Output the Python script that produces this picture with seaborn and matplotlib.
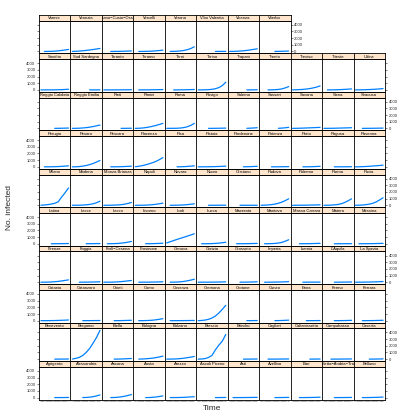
import matplotlib
matplotlib.use("Agg")
import matplotlib.pyplot as plt
import numpy as np
import pandas as pd
import seaborn as sns

N = None

# day offsets (every 3 days)
days = [0, 3, 6, 9, 12, 15, 18, 21, 24]

provinces = [
    "Agrigento", "Alessandria", "Ancona", "Aosta", "Arezzo", "Ascoli Piceno", "Asti", "Avellino", "Bari",
    "Barletta\u2212Andria\u2212Trani", "Belluno",
    "Benevento", "Bergamo", "Biella", "Bologna", "Bolzano", "Brescia", "Brindisi", "Cagliari", "Caltanissetta",
    "Campobasso", "Caserta",
    "Catania", "Catanzaro", "Chieti", "Como", "Cosenza", "Cremona", "Crotone", "Cuneo", "Enna", "Fermo", "Ferrara",
    "Firenze", "Foggia", "Forl\u00ec\u2212Cesena", "Frosinone", "Genova", "Gorizia", "Grosseto", "Imperia", "Isernia",
    "L'Aquila", "La Spezia",
    "Latina", "Lecce", "Lecco", "Livorno", "Lodi", "Lucca", "Macerata", "Mantova", "Massa Carrara", "Matera", "Messina",
    "Milano", "Modena", "Monza Brianza", "Napoli", "Novara", "Nuoro", "Oristano", "Padova", "Palermo", "Parma", "Pavia",
    "Perugia", "Pesaro", "Pescara", "Piacenza", "Pisa", "Pistoia", "Pordenone", "Potenza", "Prato", "Ragusa", "Ravenna",
    "Reggio Calabria", "Reggio Emilia", "Rieti", "Rimini", "Roma", "Rovigo", "Salerno", "Sassari", "Savona", "Siena",
    "Siracusa",
    "Sondrio", "Sud Sardegna", "Taranto", "Teramo", "Terni", "Torino", "Trapani", "Trento", "Treviso", "Trieste", "Udine",
    "Varese", "Venezia", "Verbano\u2212Cusio\u2212Ossola", "Vercelli", "Verona", "Vibo Valentia", "Vicenza", "Viterbo",
]

cases_agrigento_belluno = [
    [N, N, N, N, 2, 4, 6, 10, 20],
    [N, N, N, 5, 20, 60, 130, 250, 400],
    [N, N, 2, 15, 50, 110, 200, 320, 450],
    [N, N, N, 1, 10, 40, 90, 170, 250],
    [N, 2, 5, 10, 20, 40, 70, 100, 130],
    [N, N, N, N, N, 2, 5, 10, 20],
    [N, 1, 2, 4, 8, 12, 18, 25, 35],
    [N, N, N, N, 2, 5, 10, 20, 30],
    [N, N, 1, 3, 8, 15, 25, 40, 60],
    [N, N, N, 1, 3, 6, 10, 15, 25],
    [N, N, 1, 4, 10, 20, 35, 55, 80],
]
cases_benevento_caserta = [
    [N, N, N, N, 1, 3, 6, 12, 25],
    [10, 120, 260, 550, 1000, 1600, 2400, 3250, 4305],
    [N, N, N, 2, 8, 20, 40, 70, 100],
    [N, 5, 20, 50, 90, 150, 230, 330, 450],
    [1, 5, 15, 40, 80, 140, 220, 300, 400],
    [0, 20, 80, 250, 550, 1400, 2100, 2700, 3700],
    [N, N, N, N, 1, 3, 6, 12, 20],
    [N, N, 1, 2, 4, 8, 12, 18, 25],
    [N, N, N, N, N, 2, 5, 10, 20],
    [N, N, 1, 3, 6, 10, 15, 22, 30],
    [N, N, N, N, 2, 6, 12, 25, 40],
]
cases_catania_ferrara = [
    [1, 3, 6, 12, 20, 35, 55, 75, 100],
    [N, N, N, 1, 3, 6, 10, 15, 25],
    [N, N, N, 2, 6, 12, 25, 40, 60],
    [N, 2, 6, 15, 35, 70, 130, 210, 300],
    [N, 1, 2, 4, 8, 12, 18, 25, 35],
    [0, 30, 90, 200, 400, 700, 1150, 1700, 2300],
    [N, N, N, N, N, 2, 5, 10, 20],
    [N, N, N, N, 3, 10, 25, 50, 80],
    [N, N, N, N, 1, 3, 6, 12, 20],
    [N, N, N, 1, 4, 10, 18, 30, 50],
    [N, N, 1, 3, 8, 15, 25, 40, 60],
]
cases_firenze_laspezia = [
    [1, 5, 15, 35, 70, 120, 190, 270, 350],
    [N, N, 1, 4, 10, 18, 30, 45, 60],
    [1, 4, 10, 25, 50, 90, 140, 200, 260],
    [N, 1, 3, 6, 12, 20, 32, 45, 60],
    [N, 2, 8, 25, 60, 120, 210, 320, 450],
    [1, 2, 4, 8, 12, 20, 28, 38, 50],
    [N, N, N, 2, 6, 14, 26, 42, 60],
    [N, 1, 3, 8, 15, 25, 40, 60, 80],
    [N, N, N, 1, 3, 6, 10, 15, 20],
    [N, N, N, 1, 3, 8, 14, 22, 30],
    [1, 3, 8, 15, 25, 40, 58, 78, 100],
]
cases_latina_messina = [
    [N, N, N, 2, 5, 10, 18, 25, 35],
    [N, N, N, N, 3, 8, 15, 22, 30],
    [N, 2, 8, 20, 45, 90, 150, 240, 350],
    [N, N, N, 2, 8, 18, 32, 55, 80],
    [130, 300, 480, 650, 820, 980, 1150, 1320, 1500],
    [N, 1, 4, 10, 25, 50, 90, 150, 230],
    [N, N, 1, 3, 8, 15, 25, 38, 50],
    [N, 2, 8, 20, 50, 100, 200, 380, 600],
    [N, N, 1, 4, 10, 18, 30, 45, 60],
    [N, N, N, 1, 2, 4, 6, 8, 10],
    [N, 1, 3, 6, 12, 20, 32, 45, 60],
]
cases_milano_pavia = [
    [10, 50, 100, 180, 300, 520, 1240, 1880, 2600],
    [1, 5, 15, 35, 70, 130, 230, 380, 620],
    [0, 3, 10, 25, 50, 90, 160, 280, 420],
    [0, 3, 10, 25, 50, 90, 150, 230, 320],
    [N, 2, 6, 15, 30, 60, 100, 160, 220],
    [N, N, N, 1, 2, 4, 7, 10, 15],
    [N, N, N, 1, 1, 2, 3, 4, 5],
    [5, 20, 50, 100, 180, 300, 470, 700, 970],
    [1, 3, 6, 12, 20, 30, 42, 55, 70],
    [1, 8, 25, 60, 120, 230, 420, 680, 970],
    [2, 15, 40, 90, 170, 300, 500, 800, 1120],
]
cases_perugia_ravenna = [
    [N, 1, 4, 10, 20, 40, 70, 110, 150],
    [1, 10, 40, 100, 200, 330, 500, 720, 950],
    [N, N, 1, 5, 12, 25, 45, 70, 100],
    [20, 80, 180, 300, 450, 620, 820, 1080, 1380],
    [N, N, N, 3, 12, 30, 60, 100, 150],
    [1, 3, 6, 12, 20, 35, 55, 75, 100],
    [N, N, N, N, 5, 15, 30, 55, 80],
    [N, N, N, 1, 3, 7, 12, 20, 30],
    [N, N, N, 2, 6, 14, 28, 50, 80],
    [N, N, N, 1, 2, 5, 9, 14, 20],
    [1, 8, 25, 50, 80, 120, 160, 200, 250],
]
cases_reggiocal_siracusa = [
    [N, N, N, N, 2, 8, 18, 32, 50],
    [1, 8, 25, 60, 110, 180, 270, 380, 500],
    [N, N, N, N, N, 2, 6, 12, 20],
    [2, 15, 50, 110, 200, 310, 440, 590, 750],
    [3, 5, 10, 20, 50, 120, 250, 450, 750],
    [N, N, N, 1, 4, 10, 18, 28, 40],
    [N, N, N, N, N, 10, 30, 60, 100],
    [N, N, N, N, N, 10, 40, 90, 150],
    [1, 8, 20, 40, 60, 80, 100, 125, 150],
    [1, 4, 10, 20, 35, 50, 65, 80, 100],
    [N, N, 1, 3, 8, 14, 22, 30, 40],
]
cases_sondrio_udine = [
    [0, 1, 3, 6, 12, 22, 40, 65, 100],
    [N, N, N, N, N, 1, 3, 6, 10],
    [0, 1, 2, 4, 7, 10, 15, 22, 30],
    [N, 1, 3, 6, 12, 20, 30, 40, 50],
    [N, N, 1, 4, 10, 18, 30, 45, 60],
    [1, 5, 15, 40, 90, 180, 350, 650, 1150],
    [N, N, N, N, N, 2, 6, 12, 20],
    [N, N, 2, 10, 30, 70, 150, 300, 500],
    [5, 20, 45, 80, 130, 200, 300, 430, 600],
    [N, 1, 5, 15, 30, 50, 80, 110, 150],
    [1, 8, 20, 35, 55, 80, 110, 150, 200],
]
cases_varese_viterbo = [
    [N, 2, 8, 20, 45, 90, 150, 220, 300],
    [5, 25, 60, 100, 160, 220, 290, 370, 450],
    [N, N, 1, 4, 10, 20, 35, 55, 80],
    [N, 1, 5, 12, 25, 50, 90, 140, 200],
    [N, 3, 12, 35, 80, 150, 270, 450, 700],
    [N, N, N, N, N, 1, 3, 6, 10],
    [2, 10, 30, 60, 100, 160, 230, 310, 400],
    [N, N, N, N, 3, 12, 25, 40, 60],
]

yticks = [0, 1000, 2000, 3000, 4000]

# ---- build long table ----
all_series = (cases_agrigento_belluno + cases_benevento_caserta + cases_catania_ferrara +
              cases_firenze_laspezia + cases_latina_messina + cases_milano_pavia +
              cases_perugia_ravenna + cases_reggiocal_siracusa + cases_sondrio_udine +
              cases_varese_viterbo)
rows = []
for name, vals in zip(provinces, all_series):
    for d, v in zip(days, vals):
        rows.append({"province": name, "day": d, "cases": np.nan if v is None else v})
df = pd.DataFrame(rows).dropna()

sns.set_theme(style="white")
plt.rcParams["font.family"] = ["Liberation Sans", "DejaVu Sans"]

W = H = 420
fig = plt.figure(figsize=(W / 100, H / 100), dpi=100)
fig.patch.set_facecolor("white")

X0, PW = 39.0, 31.45
Y0, RP, SH = 15.0, 38.46, 5.7
ncols = 11
nrows = 10
ymax_data = 4310
ylim = (-0.07 * ymax_data, 1.07 * ymax_data)
xr = days[-1] - days[0]
xlim = (days[0] - 0.07 * xr, days[-1] + 0.07 * xr)
line_col = "#0080ff"
strip_col = "#ffe5cc"
fs = 3.0

for i, name in enumerate(provinces):
    lr, c = divmod(i, ncols)
    r = nrows - 1 - lr
    left = X0 + c * PW
    st = Y0 + r * RP
    pt = st + SH
    pb = Y0 + (r + 1) * RP
    ax = fig.add_axes([left / W, 1 - pb / H, PW / W, (pb - pt) / H])
    sub = df[df.province == name]
    sns.lineplot(data=sub, x="day", y="cases", ax=ax, color=line_col, lw=0.9,
                 legend=False, errorbar=None)
    ax.set_xlim(xlim)
    ax.set_ylim(ylim)
    ax.set_xlabel("")
    ax.set_ylabel("")
    for s in ax.spines.values():
        s.set_linewidth(0.6)
        s.set_color("black")
    last = (c == ncols - 1) or (i == len(provinces) - 1)
    ax.set_yticks(yticks)
    ax.set_yticklabels([str(t) for t in yticks])
    ax.tick_params(axis="y", which="both", direction="out", length=1.6, width=0.4, pad=1.0,
                   labelsize=fs, left=(c == 0), right=last,
                   labelleft=(c == 0 and r % 2 == 1), labelright=(last and r % 2 == 0))
    if lr == 0:
        ax.set_xticks(range(days[0], days[-1] + 1))
        ax.tick_params(axis="x", direction="out", length=1.6, width=0.35, color="#555555",
                       bottom=True, labelbottom=False, top=False)
    else:
        ax.set_xticks([])
    # strip
    sa = fig.add_axes([left / W, 1 - pt / H, PW / W, SH / H])
    sa.set_facecolor(strip_col)
    sa.set_xticks([])
    sa.set_yticks([])
    for s in sa.spines.values():
        s.set_linewidth(0.6)
        s.set_color("black")
    sa.text(0.5, 0.42, name, ha="center", va="center", fontsize=fs, color="black",
            transform=sa.transAxes, clip_on=True)

fig.text(10 / W, 1 - 208 / H, "No. infected", rotation=90, ha="center", va="center", fontsize=6)
fig.text(212 / W, 1 - 408 / H, "Time", ha="center", va="center", fontsize=6)

fig.savefig("out.png", dpi=100, facecolor="white")
